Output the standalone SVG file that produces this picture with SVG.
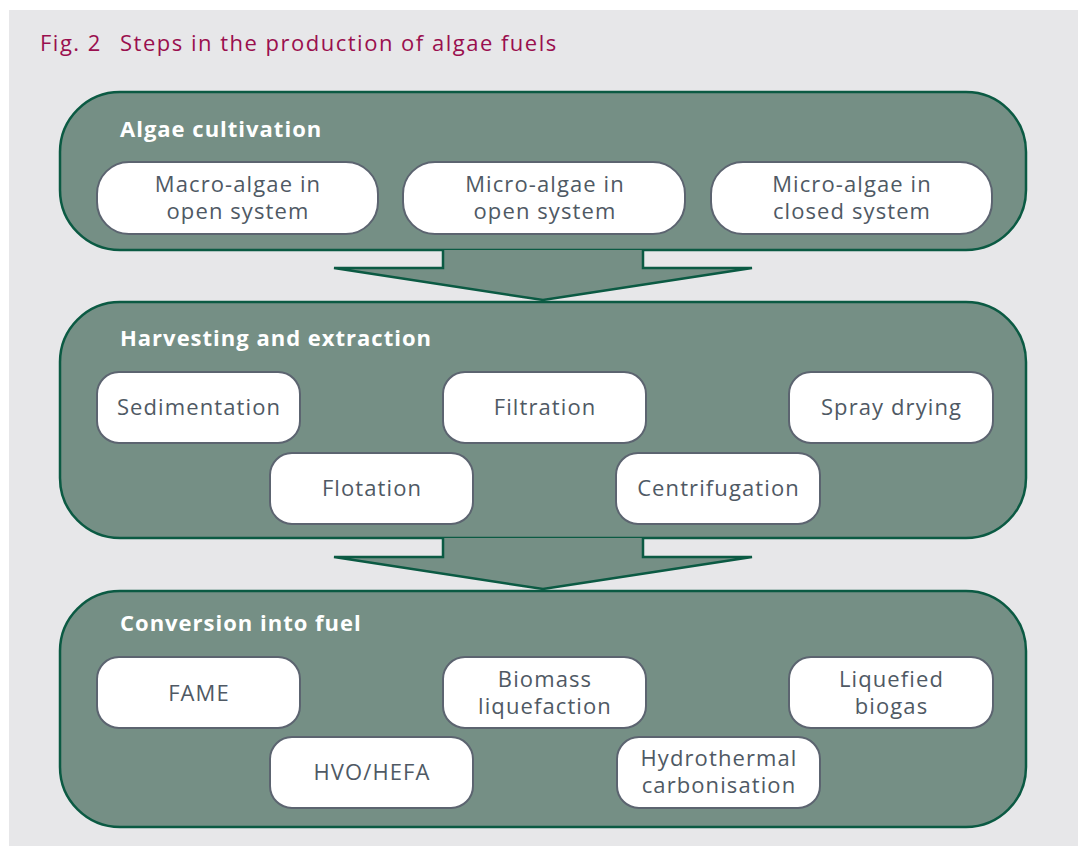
<svg xmlns="http://www.w3.org/2000/svg" width="1078" height="846" viewBox="0 0 1078 846">
<style>
.stage{fill:#758f85;stroke:#0b5a43;stroke-width:2.5}
.arrow{fill:#758f85;stroke:#0b5a43;stroke-width:2.5;stroke-linejoin:miter}
.node{fill:#ffffff;stroke:#5c6470;stroke-width:2}
.hdr{font-family:"Open Sans","Noto Sans",sans-serif;font-weight:bold;font-size:22px;letter-spacing:1px;fill:#ffffff}
.lbl{font-family:"Open Sans","Noto Sans",sans-serif;font-size:22px;letter-spacing:1.1px;fill:#4f5964;text-anchor:middle}
.title{font-family:"Open Sans","Noto Sans",sans-serif;font-size:22px;letter-spacing:1.5px;fill:#9a0f4e}
</style>
<rect x="0" y="0" width="1078" height="846" fill="#ffffff"/>
<rect x="9" y="10" width="1069" height="836" fill="#e7e7e9"/>
<text class="title" x="40" y="51">Fig. 2</text>
<text class="title" x="120" y="51">Steps in the production of algae fuels</text>

<g id="stage-cultivation">
<rect class="stage" x="60" y="92" width="966" height="158" rx="60" ry="60"/>
<text class="hdr" x="120" y="137">Algae cultivation</text>
</g>
<g id="stage-harvesting">
<rect class="stage" x="60" y="302" width="966" height="236" rx="60" ry="60"/>
<text class="hdr" x="120" y="346">Harvesting and extraction</text>
</g>
<g id="stage-conversion">
<rect class="stage" x="60" y="591" width="966" height="236" rx="60" ry="60"/>
<text class="hdr" x="120" y="631">Conversion into fuel</text>
</g>

<g id="connectors">
<path class="arrow" d="M443,250 L443,268 L334,268 L543,300 L752,268 L643,268 L643,250"/>
<path class="arrow" d="M443,538 L443,557 L334,557 L543,589 L752,557 L643,557 L643,538"/>
</g>

<g id="n-macro">
<rect class="node" x="97" y="162" width="281" height="72" rx="32"/>
<text class="lbl" x="238" y="192">Macro-algae in</text>
<text class="lbl" x="238" y="219">open system</text>
</g>
<g id="n-micro-open">
<rect class="node" x="403" y="162" width="282" height="72" rx="32"/>
<text class="lbl" x="545" y="192">Micro-algae in</text>
<text class="lbl" x="545" y="219">open system</text>
</g>
<g id="n-micro-closed">
<rect class="node" x="711" y="162" width="281" height="72" rx="32"/>
<text class="lbl" x="852" y="192">Micro-algae in</text>
<text class="lbl" x="852" y="219">closed system</text>
</g>

<g id="n-sedimentation">
<rect class="node" x="97" y="372" width="203" height="71" rx="22"/>
<text class="lbl" x="199" y="415">Sedimentation</text>
</g>
<g id="n-filtration">
<rect class="node" x="443" y="372" width="203" height="71" rx="22"/>
<text class="lbl" x="545" y="415">Filtration</text>
</g>
<g id="n-spray">
<rect class="node" x="789" y="372" width="204" height="71" rx="22"/>
<text class="lbl" x="891.5" y="415">Spray drying</text>
</g>
<g id="n-flotation">
<rect class="node" x="270" y="453" width="203" height="71" rx="22"/>
<text class="lbl" x="372" y="496">Flotation</text>
</g>
<g id="n-centrifugation">
<rect class="node" x="616" y="453" width="204" height="71" rx="22"/>
<text class="lbl" x="718.5" y="496">Centrifugation</text>
</g>

<g id="n-fame">
<rect class="node" x="97" y="657" width="203" height="71" rx="22"/>
<text class="lbl" x="199" y="701">FAME</text>
</g>
<g id="n-biomass">
<rect class="node" x="443" y="657" width="203" height="71" rx="22"/>
<text class="lbl" x="545" y="687">Biomass</text>
<text class="lbl" x="545" y="714">liquefaction</text>
</g>
<g id="n-biogas">
<rect class="node" x="789" y="657" width="204" height="71" rx="22"/>
<text class="lbl" x="891.5" y="687">Liquefied</text>
<text class="lbl" x="891.5" y="714">biogas</text>
</g>
<g id="n-hvo">
<rect class="node" x="270" y="737" width="203" height="71" rx="22"/>
<text class="lbl" x="372" y="780">HVO/HEFA</text>
</g>
<g id="n-htc">
<rect class="node" x="617" y="737" width="203" height="71" rx="22"/>
<text class="lbl" x="719" y="766">Hydrothermal</text>
<text class="lbl" x="719" y="793">carbonisation</text>
</g>
</svg>
